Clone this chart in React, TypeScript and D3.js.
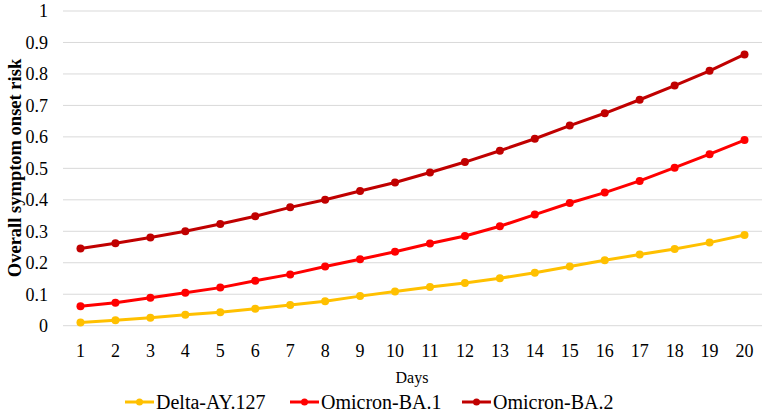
import React from "react";
import * as d3 from "d3";

const days = d3.range(1, 21);
const deltaAY127 = [0.01, 0.017, 0.025, 0.035, 0.043, 0.054, 0.066, 0.078, 0.094, 0.109, 0.123, 0.136, 0.151, 0.168, 0.188, 0.208, 0.226, 0.244, 0.264, 0.288];
const omicronBA1 = [0.062, 0.073, 0.089, 0.105, 0.121, 0.143, 0.163, 0.188, 0.211, 0.235, 0.261, 0.285, 0.316, 0.353, 0.39, 0.423, 0.46, 0.502, 0.545, 0.59];
const omicronBA2 = [0.245, 0.262, 0.28, 0.3, 0.323, 0.348, 0.376, 0.4, 0.428, 0.455, 0.487, 0.52, 0.556, 0.594, 0.636, 0.675, 0.718, 0.763, 0.81, 0.862];
const yTicks = [0, 0.1, 0.2, 0.3, 0.4, 0.5, 0.6, 0.7, 0.8, 0.9, 1];

const series = [
  { name: "Delta-AY.127", values: deltaAY127, color: "#FFC000" },
  { name: "Omicron-BA.1", values: omicronBA1, color: "#FF0000" },
  { name: "Omicron-BA.2", values: omicronBA2, color: "#C00000" },
];

export default function App() {
  const W = 765, H = 413;
  const left = 63, right = 762, top = 11, bottom = 325.7;
  const x = d3.scaleBand<number>().domain(days).range([left, right]);
  const y = d3.scaleLinear().domain([0, 1]).range([bottom, top]);
  const cx = (d: number) => (x(d) as number) + x.bandwidth() / 2;
  const line = d3.line<number>().x((_, i) => cx(days[i])).y((v) => y(v));
  const font = "'Liberation Serif', 'Times New Roman', serif";
  const legendX = [125, 290, 462];
  return (
    <svg width={W} height={H} style={{ position: "absolute", left: 0, top: 0, background: "#fff" }} fontFamily={font}>
      {yTicks.map((t) => (
        <g key={t}>
          <line x1={left} x2={right} y1={y(t)} y2={y(t)} stroke="#d9d9d9" strokeWidth={1} />
          <text x={48} y={y(t)} dy="0.35em" textAnchor="end" fontSize={18}>{t}</text>
        </g>
      ))}
      {days.map((d) => (
        <text key={d} x={cx(d)} y={351} dy="0.35em" textAnchor="middle" fontSize={18}>{d}</text>
      ))}
      <text x={412} y={377} dy="0.35em" textAnchor="middle" fontSize={16}>Days</text>
      <text transform={`translate(15,168) rotate(-90)`} textAnchor="middle" dy="0.35em" fontSize={18.5} fontWeight="bold">Overall symptom onset risk</text>
      {series.map((s) => (
        <g key={s.name}>
          <path d={line(s.values) || ""} fill="none" stroke={s.color} strokeWidth={3} />
          {s.values.map((v, i) => (
            <circle key={i} cx={cx(days[i])} cy={y(v)} r={4} fill={s.color} />
          ))}
        </g>
      ))}
      {series.map((s, i) => (
        <g key={s.name} transform={`translate(${legendX[i]},402)`}>
          <line x1={0} x2={29} y1={0} y2={0} stroke={s.color} strokeWidth={3} />
          <circle cx={14.5} cy={0} r={3.5} fill={s.color} />
          <text x={31} y={0} dy="0.35em" fontSize={20}>{s.name}</text>
        </g>
      ))}
    </svg>
  );
}
